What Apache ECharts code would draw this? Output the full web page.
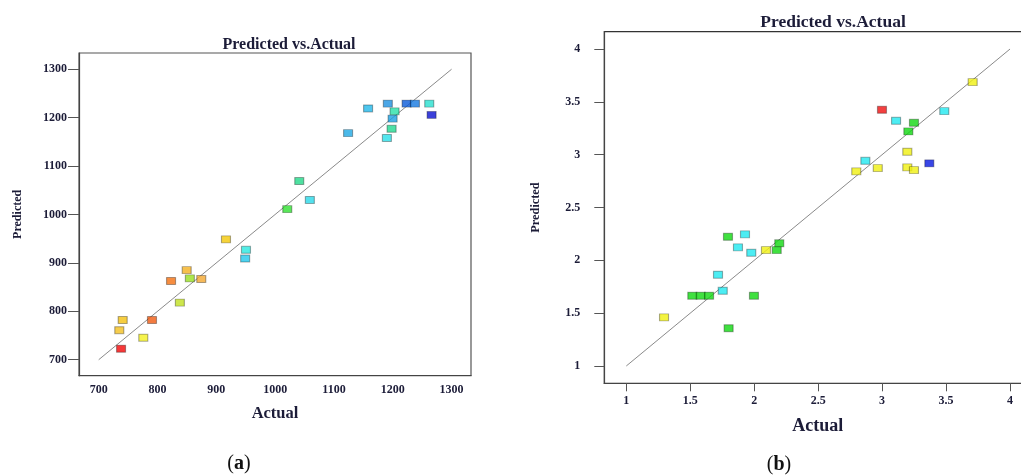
<!DOCTYPE html>
<html>
<head>
<meta charset="utf-8">
<style>
  html, body { margin: 0; padding: 0; background: #fff; }
  #chart { width: 1021px; height: 476px; }
</style>
<script src="https://cdn.jsdelivr.net/npm/echarts@6/dist/echarts.min.js"></script>
</head>
<body>
<div id="chart"></div>
<script>
// Panel (a): actual vs. predicted response
const actualA = [1158, 1191.6, 1223.5, 1237.7, 1262, 1266, 1203, 1199.7, 1198, 1190,
  1124, 1041, 1059, 1020.6, 916.4, 950.4, 949, 849.6, 823, 855,
  874.4, 838, 740.8, 790.6, 735, 775.8, 738];
const predictedA = [1219, 1229, 1229, 1229, 1229, 1205.6, 1213, 1198, 1177, 1158,
  1168, 1069, 1030, 1011, 948.6, 927, 909, 885, 862.6, 868,
  866.7, 818, 782, 782, 761, 745.5, 722.7];
const ticksA = [700, 800, 900, 1000, 1100, 1200, 1300];
const diagonalA = [[700, 700], [1300, 1300]];

// Panel (b): actual vs. predicted response
const actualB = [3.708, 3.486, 2.999, 3.109, 3.249, 3.205, 3.197, 3.369, 3.197, 3.249,
  2.966, 2.869, 2.798, 1.795, 1.928, 1.873, 1.977, 2.092, 2.176, 2.196,
  1.717, 1.754, 1.516, 1.582, 1.647, 1.998, 1.295, 1.80];
const predictedB = [3.687, 3.412, 3.425, 3.321, 3.302, 3.22, 3.028, 2.918, 2.88, 2.854,
  2.873, 2.942, 2.842, 2.223, 2.246, 2.123, 2.072, 2.097, 2.097, 2.161,
  1.864, 1.712, 1.665, 1.665, 1.665, 1.665, 1.46, 1.357];
const ticksB = [1, 1.5, 2, 2.5, 3, 3.5, 4];
const diagonalB = [[1, 1], [4, 4]];

// Point colours (style only)
const colorsA = ['#22b8ea', '#1e90e0', '#0a5ad8', '#1478e0', '#28e0d0', '#0a10d0', '#28e0a8', '#1ca0e2', '#22d890', '#28e0e8',
  '#1ea8e4', '#22d888', '#28d8e8', '#30e030', '#f4c808', '#28e8e0', '#22c8ec', '#f4b020', '#f47010', '#98e020',
  '#f4a830', '#c0e020', '#f4c010', '#f05a10', '#f4c020', '#f4f020', '#f40808'];
const Y = '#f0f010', C = '#20e8f0', G = '#10d810', R = '#f01010', B = '#0818e0';
const colorsB = [Y, C, R, C, G, G, Y, B, Y, Y, Y, C, Y, G, C, C, C, Y, G, G, C, C, G, G, G, G, Y, G];

const FONT = '"Liberation Serif", "DejaVu Serif", serif';
const INK = '#1c1c38';
const plain = v => String(v);

function points(xs, ys, cols) {
  return xs.map((x, i) => ({
    value: [x, ys[i]],
    itemStyle: { color: cols[i], borderColor: 'rgba(0,0,0,0.4)', borderWidth: 1 }
  }));
}

function valueAxis(gridIndex, min, max, ticks, o) {
  return {
    type: 'value', gridIndex, min, max,
    splitLine: { show: false },
    axisLine: { show: true, lineStyle: { color: '#444', width: 1.2 } },
    axisTick: { show: o.tickLen > 0, customValues: ticks, length: o.tickLen, lineStyle: { color: '#555' } },
    axisLabel: {
      customValues: ticks, formatter: plain, margin: o.margin,
      fontFamily: FONT, fontWeight: 'bold', fontSize: 12, color: INK
    },
    name: o.name, nameLocation: 'middle', nameGap: o.nameGap,
    nameTextStyle: { fontFamily: FONT, fontWeight: 'bold', fontSize: o.nameSize, color: INK }
  };
}

const chart = echarts.init(document.getElementById('chart'), null, { renderer: 'canvas' });
chart.setOption({
  animation: false,
  backgroundColor: '#fff',
  title: [
    { text: 'Predicted vs.Actual', left: 284, top: 32, textAlign: 'center',
      textStyle: { fontFamily: FONT, fontWeight: 'bold', fontSize: 16, color: INK } },
    { text: 'Predicted vs.Actual', left: 828, top: 8, textAlign: 'center',
      textStyle: { fontFamily: FONT, fontWeight: 'bold', fontSize: 17.5, color: INK } }
  ],
  grid: [
    { left: 79, top: 53, width: 392, height: 322.7, outerBoundsMode: 'none',
      show: true, borderColor: '#555', borderWidth: 1.2, backgroundColor: '#fff' },
    { left: 604.3, top: 31.7, width: 426.7, height: 351.6, outerBoundsMode: 'none',
      show: true, borderColor: '#333', borderWidth: 1.2, backgroundColor: '#fff' }
  ],
  xAxis: [
    valueAxis(0, 666.5, 1333, ticksA, { name: 'Actual', nameGap: 30, nameSize: 16.5, tickLen: 0, margin: 8 }),
    valueAxis(1, 0.828, 4.164, ticksB, { name: 'Actual', nameGap: 34, nameSize: 18, tickLen: 8, margin: 12 })
  ],
  yAxis: [
    valueAxis(0, 667, 1333.5, ticksA, { name: 'Predicted', nameGap: 55, nameSize: 12, tickLen: 11, margin: 12 }),
    valueAxis(1, 0.836, 4.164, ticksB, { name: 'Predicted', nameGap: 62, nameSize: 12.3, tickLen: 10, margin: 24 })
  ],
  series: [
    { type: 'line', xAxisIndex: 0, yAxisIndex: 0, data: diagonalA, symbol: 'none',
      lineStyle: { color: '#8a8a8a', width: 1 }, z: 1, silent: true },
    { type: 'scatter', xAxisIndex: 0, yAxisIndex: 0, symbol: 'rect', symbolSize: [9, 7],
      data: points(actualA, predictedA, colorsA), z: 3 },
    { type: 'line', xAxisIndex: 1, yAxisIndex: 1, data: diagonalB, symbol: 'none',
      lineStyle: { color: '#8a8a8a', width: 1 }, z: 1, silent: true },
    { type: 'scatter', xAxisIndex: 1, yAxisIndex: 1, symbol: 'rect', symbolSize: [9, 7],
      data: points(actualB, predictedB, colorsB), z: 3 }
  ],
  graphic: [
    { type: 'text', x: 239, y: 464, style: {
        text: '{p|(}{b|a}{p|)}', align: 'center', verticalAlign: 'middle',
        rich: { p: { fontFamily: FONT, fontSize: 20, fill: '#111' }, b: { fontFamily: FONT, fontSize: 20, fontWeight: 'bold', fill: '#111' } } } },
    { type: 'text', x: 779, y: 465, style: {
        text: '{p|(}{b|b}{p|)}', align: 'center', verticalAlign: 'middle',
        rich: { p: { fontFamily: FONT, fontSize: 20, fill: '#111' }, b: { fontFamily: FONT, fontSize: 20, fontWeight: 'bold', fill: '#111' } } } }
  ]
});
</script>
</body>
</html>
